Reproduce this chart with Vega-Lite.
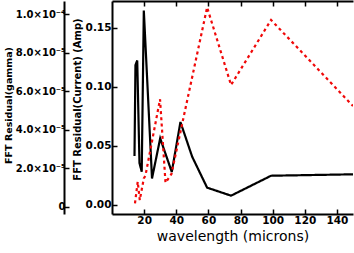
{
  "$schema": "https://vega.github.io/schema/vega-lite/v6.json",
  "width": 241,
  "height": 213,
  "autosize": {"type": "none"},
  "padding": {"left": 112, "top": 1, "right": 1, "bottom": 39},
  "background": "white",
  "config": {
    "view": {"stroke": null},
    "axis": {
      "domainColor": "black",
      "domainWidth": 2,
      "tickColor": "black",
      "tickWidth": 1.5,
      "tickSize": -5,
      "labelFont": "DejaVu Sans",
      "labelFontWeight": "bold",
      "labelFontSize": 10.5,
      "labelColor": "black",
      "labelPadding": 6,
      "titleFont": "DejaVu Sans",
      "titleColor": "black",
      "titleFontWeight": "bold",
      "titleFontSize": 10,
      "grid": false
    }
  },
  "data": {
    "values": [
      {"series": "current", "wavelength": 14.0, "residual": 0.0415},
      {"series": "current", "wavelength": 14.6, "residual": 0.1186},
      {"series": "current", "wavelength": 15.7, "residual": 0.1225},
      {"series": "current", "wavelength": 17.1, "residual": 0.0356},
      {"series": "current", "wavelength": 18.5, "residual": 0.0282},
      {"series": "current", "wavelength": 19.8, "residual": 0.1648},
      {"series": "current", "wavelength": 24.9, "residual": 0.0225},
      {"series": "current", "wavelength": 30.0, "residual": 0.0565},
      {"series": "current", "wavelength": 37.2, "residual": 0.028},
      {"series": "current", "wavelength": 42.6, "residual": 0.0703},
      {"series": "current", "wavelength": 49.9, "residual": 0.0409},
      {"series": "current", "wavelength": 59.2, "residual": 0.0147},
      {"series": "current", "wavelength": 74.1, "residual": 0.0079},
      {"series": "current", "wavelength": 99.0, "residual": 0.0248},
      {"series": "current", "wavelength": 150.0, "residual": 0.026},
      {"series": "gamma", "wavelength": 14.3, "residual": 0.0014},
      {"series": "gamma", "wavelength": 16.0, "residual": 0.0197},
      {"series": "gamma", "wavelength": 17.3, "residual": 0.0042},
      {"series": "gamma", "wavelength": 19.8, "residual": 0.0226},
      {"series": "gamma", "wavelength": 20.8, "residual": 0.0248},
      {"series": "gamma", "wavelength": 29.9, "residual": 0.0896},
      {"series": "gamma", "wavelength": 33.3, "residual": 0.0189},
      {"series": "gamma", "wavelength": 37.0, "residual": 0.0263},
      {"series": "gamma", "wavelength": 59.2, "residual": 0.1675},
      {"series": "gamma", "wavelength": 74.1, "residual": 0.1017},
      {"series": "gamma", "wavelength": 99.0, "residual": 0.1568},
      {"series": "gamma", "wavelength": 150.0, "residual": 0.0839}
    ]
  },
  "layer": [
    {
      "mark": {"type": "line", "strokeWidth": 2.2, "clip": true},
      "encoding": {
        "x": {
          "field": "wavelength",
          "type": "quantitative",
          "scale": {"domain": [0, 150], "nice": false, "zero": false},
          "axis": {
            "orient": "bottom",
            "values": [20, 40, 60, 80, 100, 120, 140],
            "title": "wavelength (microns)",
            "titleFontSize": 14,
            "titleFontWeight": "normal",
            "titlePadding": 4
          }
        },
        "y": {
          "field": "residual",
          "type": "quantitative",
          "scale": {"domain": [-0.00763, 0.17288], "nice": false, "zero": false},
          "axis": {
            "orient": "left",
            "values": [0, 0.05, 0.1, 0.15],
            "format": ".2f",
            "title": "FFT Residual(Current) (Amp)",
            "titlePadding": 3,
            "titleY": 98
          }
        },
        "color": {
          "field": "series",
          "type": "nominal",
          "scale": {"domain": ["current", "gamma"], "range": ["black", "#f00808"]},
          "legend": null
        },
        "strokeDash": {
          "field": "series",
          "type": "nominal",
          "scale": {"domain": ["current", "gamma"], "range": [[1, 0], [3, 3.2]]},
          "legend": null
        },
        "order": {"field": "wavelength", "type": "quantitative"}
      }
    },
    {
      "mark": {"type": "line", "opacity": 0},
      "encoding": {
        "x": {
          "field": "wavelength",
          "type": "quantitative",
          "axis": {
            "orient": "top",
            "values": [20, 40, 60, 80, 100, 120, 140],
            "labels": false,
            "title": null
          }
        },
        "y": {
          "datum": 0,
          "type": "quantitative",
          "scale": {"domain": [-0.00000363, 0.00010674], "nice": false, "zero": false},
          "axis": {
            "orient": "left",
            "offset": 48,
            "values": [0, 0.00002, 0.00004, 0.00006, 0.00008, 0.0001],
            "labelExpr": "datum.value == 0 ? '0' : (datum.value > 0.000099 ? '1.0×10⁻⁴' : format(datum.value * 100000, '.1f') + '×10⁻⁵')",
            "labelFontSize": 10,
            "labelPadding": 4,
            "title": "FFT Residual(gamma)",
            "titleFontSize": 9.5,
            "titlePadding": 2,
            "titleY": 104
          }
        }
      }
    }
  ],
  "resolve": {"scale": {"y": "independent"}, "axis": {"x": "independent", "y": "independent"}}
}
